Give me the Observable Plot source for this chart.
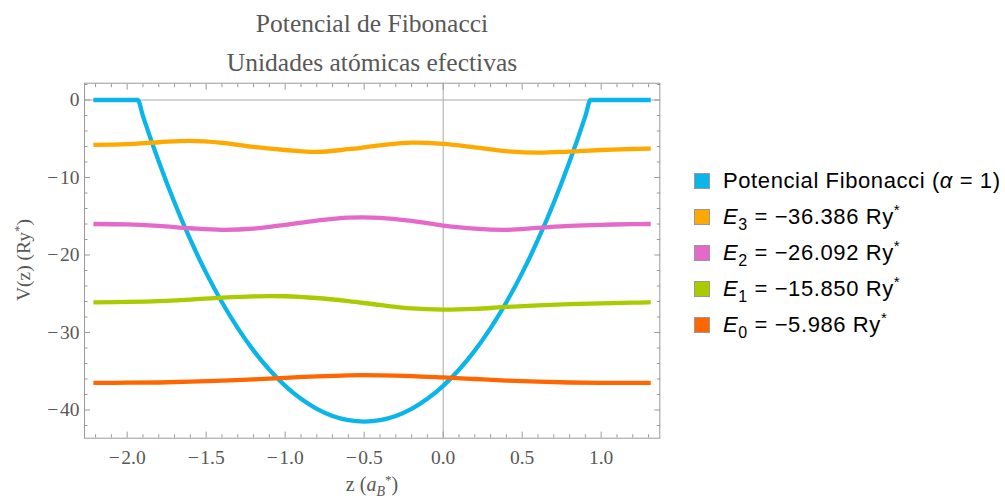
<!DOCTYPE html>
<html><head><meta charset="utf-8">
<script src="https://cdn.jsdelivr.net/npm/d3@7"></script>
<script src="https://cdn.jsdelivr.net/npm/@observablehq/plot@0.6"></script>
<style>
body{margin:0;background:#fff;}
#wrap{position:relative;width:1005px;height:500px;overflow:hidden;background:#fff;}
#chart{position:absolute;left:0;top:0;}
#legend{position:absolute;left:694px;top:163px;font-family:"Liberation Sans",Arial,sans-serif;font-size:22px;letter-spacing:0.6px;color:#000;}
.row{height:36px;display:flex;align-items:center;white-space:nowrap;}
.sw{width:14px;height:14px;border:1px solid #999;margin-right:13px;flex:none;}
.row sub{font-size:16px;vertical-align:-6px;line-height:0;}
.row sup{font-size:15px;vertical-align:9px;line-height:0;}
</style></head><body>
<div id="wrap"><div id="chart"></div><div id="legend"></div></div>
<script>
// ---- data ----
const potZ = [-2.2,-1.933,-1.9,-1.8,-1.7,-1.6,-1.5,-1.4,-1.3,-1.2,-1.1,-1.0,-0.9,-0.8,-0.7,-0.6,-0.5,-0.4,-0.3,-0.2,-0.1,0,0.1,0.2,0.3,0.4,0.5,0.6,0.7,0.8,0.9,0.933,1.3];
const potV = [0,0,-2.07,-7.94,-13.25,-18.03,-22.31,-26.10,-29.44,-32.34,-34.81,-36.88,-38.56,-39.85,-40.77,-41.32,-41.5,-41.32,-40.77,-39.85,-38.56,-36.88,-34.81,-32.34,-29.44,-26.10,-22.31,-18.03,-13.25,-7.94,-2.07,0,0];

const waveZ  = [-2.2,-2.0,-1.8,-1.6,-1.4,-1.2,-1.0,-0.8,-0.6,-0.4,-0.2,0,0.2,0.4,0.6,0.8,1.0,1.2,1.3];
const e3Vals = [-5.78,-5.68,-5.45,-5.27,-5.52,-6.05,-6.45,-6.7,-6.35,-5.85,-5.5,-5.65,-6.1,-6.6,-6.8,-6.65,-6.45,-6.32,-6.28];
const e2Vals = [-16.0,-16.05,-16.25,-16.55,-16.75,-16.6,-16.1,-15.55,-15.18,-15.2,-15.6,-16.2,-16.6,-16.75,-16.5,-16.25,-16.1,-16.02,-16.0];
const e1Vals = [-26.1,-26.05,-25.95,-25.75,-25.5,-25.33,-25.32,-25.55,-25.95,-26.45,-26.9,-27.05,-26.95,-26.7,-26.5,-26.35,-26.25,-26.15,-26.1];
const e0Vals = [-36.5,-36.48,-36.45,-36.35,-36.2,-36.05,-35.85,-35.65,-35.52,-35.52,-35.62,-35.8,-36.0,-36.2,-36.35,-36.45,-36.5,-36.5,-36.5];

const seriesLabels = [
  'Potencial Fibonacci (<i>α</i> = 1)',
  '<i>E</i><sub>3</sub> = −36.386 Ry<sup>*</sup>',
  '<i>E</i><sub>2</sub> = −26.092 Ry<sup>*</sup>',
  '<i>E</i><sub>1</sub> = −15.850 Ry<sup>*</sup>',
  '<i>E</i><sub>0</sub> = −5.986 Ry<sup>*</sup>'
];
const seriesColors = ["#0BB5E8", "#FFA800", "#E469C8", "#A8CC00", "#FF6600"];

const xMajorTicks = [-2, -1.5, -1, -0.5, 0, 0.5, 1];
const yMajorTicks = [0, -10, -20, -30, -40];
const xMinorTicks = d3.range(-22, 14).map(d => d / 10).filter(d => !xMajorTicks.some(m => Math.abs(m - d) < 1e-9));
const yMinorTicks = d3.range(-42, 3, 2).filter(d => d % 10 !== 0);

const titleText = "Potencial de Fibonacci";
const subtitleText = "Unidades atómicas efectivas";

// ---- build tables ----
const potential = potZ.map((z, i) => ({z, v: potV[i]}));
const waveSets = [e3Vals, e2Vals, e1Vals, e0Vals].map(vals => waveZ.map((z, i) => ({z, v: vals[i]})));

const fmtX = d => (d < 0 ? "−\u200A" : "") + Math.abs(d).toFixed(1);
const fmtY = d => (d < 0 ? "−\u200A" : "") + Math.abs(d);

const frameColor = "#9a9a9a";
const textColor = "#585858";

const svgEl = Plot.plot({
  width: 680, height: 500,
  marginLeft: 84, marginRight: 20.7, marginTop: 82.7, marginBottom: 62.3,
  x: {domain: [-2.27, 1.371]},
  y: {domain: [-43.64, 2.17]},
  style: {fontFamily: '"Liberation Serif", "Times New Roman", serif', fontSize: "19.5px", background: "transparent", overflow: "visible"},
  marks: [
    Plot.ruleY([0], {stroke: "#a8a8a8", strokeWidth: 1}),
    Plot.ruleX([0], {stroke: "#a8a8a8", strokeWidth: 1}),
    Plot.line(potential, {x: "z", y: "v", stroke: seriesColors[0], strokeWidth: 4.3, curve: "monotone-x", strokeLinecap: "square"}),
    ...waveSets.map((ws, k) => Plot.line(ws, {x: "z", y: "v", stroke: seriesColors[k + 1], strokeWidth: 4.3, curve: "catmull-rom", strokeLinecap: "square"})),
    Plot.frame({stroke: frameColor, strokeWidth: 1}),
    Plot.axisX(xMajorTicks, {anchor: "bottom", tickSize: -6, tickPadding: 18, stroke: frameColor, fill: textColor, tickFormat: fmtX, label: null}),
    Plot.axisX(xMinorTicks, {anchor: "bottom", tickSize: -3.5, stroke: frameColor, fill: "none", label: null}),
    Plot.axisX(xMajorTicks, {anchor: "top", tickSize: -6, stroke: frameColor, fill: "none", label: null}),
    Plot.axisX(xMinorTicks, {anchor: "top", tickSize: -3.5, stroke: frameColor, fill: "none", label: null}),
    Plot.axisY(yMajorTicks, {anchor: "left", tickSize: -6, tickPadding: 11, stroke: frameColor, fill: textColor, tickFormat: fmtY, label: null}),
    Plot.axisY(yMinorTicks, {anchor: "left", tickSize: -3.5, stroke: frameColor, fill: "none", label: null}),
    Plot.axisY(yMajorTicks, {anchor: "right", tickSize: -6, stroke: frameColor, fill: "none", label: null}),
    Plot.axisY(yMinorTicks, {anchor: "right", tickSize: -3.5, stroke: frameColor, fill: "none", label: null})
  ]
});
document.getElementById("chart").appendChild(svgEl);

const svg = d3.select(svgEl);
svg.append("text").attr("x", 372).attr("y", 31.7).attr("text-anchor", "middle")
  .attr("font-size", 25.5).attr("fill", textColor).text(titleText);
svg.append("text").attr("x", 372).attr("y", 70.7).attr("text-anchor", "middle")
  .attr("font-size", 25.5).attr("fill", textColor).text(subtitleText);

const yl = svg.append("text").attr("transform", "translate(30,260) rotate(-90)")
  .attr("text-anchor", "middle").attr("font-size", 19.5).attr("fill", textColor);
yl.append("tspan").text("V(z) (Ry");
yl.append("tspan").attr("dy", -7).attr("font-size", 13).text("*");
yl.append("tspan").attr("dy", 7).text(")");

const xl = svg.append("text").attr("x", 372).attr("y", 491)
  .attr("text-anchor", "middle").attr("font-size", 20).attr("fill", textColor);
xl.append("tspan").text("z (");
xl.append("tspan").attr("font-style", "italic").text("a");
xl.append("tspan").attr("font-style", "italic").attr("font-size", 14).attr("dy", 5).text("B");
xl.append("tspan").attr("font-size", 13).attr("dy", -12).text("*");
xl.append("tspan").attr("dy", 7).text(")");

const legend = d3.select("#legend");
seriesLabels.forEach((lab, i) => {
  const row = legend.append("div").attr("class", "row");
  row.append("div").attr("class", "sw").style("background", seriesColors[i]);
  row.append("span").html(lab);
});
</script>
</body></html>
